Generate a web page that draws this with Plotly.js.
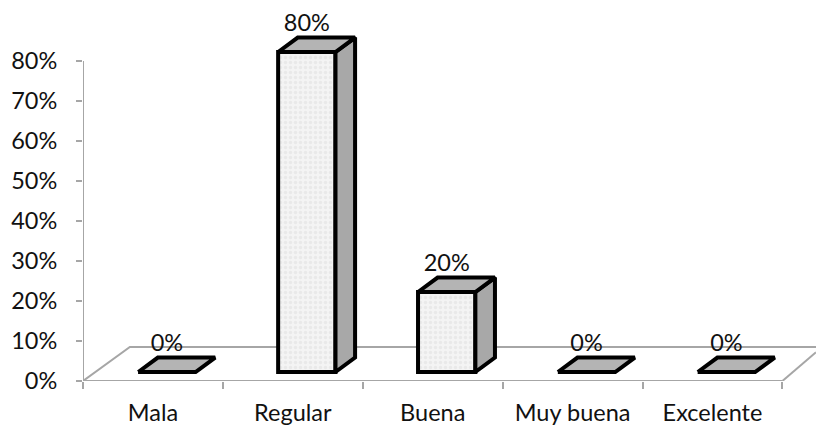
<!DOCTYPE html>
<html>
<head>
<meta charset="utf-8">
<script src="https://cdn.plot.ly/plotly-3.0.1.min.js"></script>
<style>html,body{margin:0;padding:0;background:#fff}#c{width:816px;height:428px}</style>
</head>
<body>
<div id="c"></div>
<script>
const categories = ['Mala', 'Regular', 'Buena', 'Muy buena', 'Excelente'];
const values = [0, 80, 20, 0, 0];
const labels = ['0%', '80%', '20%', '0%', '0%'];
const yTicks = [0, 10, 20, 30, 40, 50, 60, 70, 80];
const yTickText = ['0%', '10%', '20%', '30%', '40%', '50%', '60%', '70%', '80%'];
const boundaries = [-0.5, 0.5, 1.5, 2.5, 3.5, 4.5];

// oblique projection in axis units
const xStart = -0.5, xEnd = 4.74, yMin = 0, yMax = 95.25;
const barShift = 0.1, barWidth = 0.41, barLift = 2.25;
const depthX = 0.14, depthY = 3.6;
const edge = {color: '#000', width: 4};
const font = 'Lato, Carlito, sans-serif';
const ink = '#111';

const centers = categories.map((_, i) => i);
const traces = [];

// chart frame: y axis, floor
const frame = {color: '#a6a6a6', width: 2};
traces.push({type: 'scatter', mode: 'lines', x: [xStart, xStart], y: [0, 80], line: frame, hoverinfo: 'skip', xaxis: 'x', yaxis: 'y'});
traces.push({type: 'scatter', mode: 'lines',
  x: [4.5, xStart, xStart + 0.335, xEnd], y: [0, 0, 8.5, 8.5],
  line: frame, hoverinfo: 'skip', xaxis: 'x', yaxis: 'y'});
traces.push({type: 'scatter', mode: 'lines',
  x: [4.5, xEnd], y: [0, 7.2],
  line: frame, hoverinfo: 'skip', xaxis: 'x', yaxis: 'y'});

// front faces
traces.push({
  type: 'bar', x: centers.map(c => c + barShift), y: values, base: values.map(() => barLift),
  width: barWidth,
  marker: {color: '#f1f1f1', line: edge, pattern: {shape: '.', fgcolor: '#e9e9e9', bgcolor: '#f4f4f4', size: 5, solidity: 0.35}},
  hoverinfo: 'skip', xaxis: 'x2', yaxis: 'y2'
});

// side and top faces
centers.forEach((c, i) => {
  const l = c + barShift - barWidth / 2, r = l + barWidth;
  const top = values[i] + barLift;
  if (values[i] > 0) {
    traces.push({type: 'scatter', mode: 'lines', fill: 'toself', fillcolor: '#a8a8a8',
      x: [r, r + depthX, r + depthX, r, r], y: [barLift, barLift + depthY, top + depthY, top, barLift],
      line: Object.assign({join: 'round'}, edge), hoverinfo: 'skip', xaxis: 'x2', yaxis: 'y2'});
  }
  traces.push({type: 'scatter', mode: 'lines', fill: 'toself', fillcolor: '#b4b4b4',
    x: [l, r, r + depthX, l + depthX, l], y: [top, top, top + depthY, top + depthY, top],
    line: Object.assign({join: 'round'}, edge), hoverinfo: 'skip', xaxis: 'x2', yaxis: 'y2'});
});

// data labels
traces.push({
  type: 'scatter', mode: 'text', x: centers.map(c => c + barShift),
  y: values.map(v => v + barLift + 6.6), text: labels, textposition: 'middle center',
  textfont: {family: font, size: 23.5, color: ink}, hoverinfo: 'skip', xaxis: 'x2', yaxis: 'y2'
});

const layout = {
  width: 816, height: 428, showlegend: false,
  paper_bgcolor: '#fff', plot_bgcolor: '#fff',
  margin: {l: 83, r: 0, t: 0, b: 47},
  font: {family: font, size: 23.5, color: ink},
  xaxis: {range: [xStart, xEnd], tickmode: 'array', tickvals: centers, ticktext: categories,
    ticks: '', showgrid: false, zeroline: false, showline: false, ticklabelstandoff: 15,
    tickfont: {family: font, size: 23.5, color: ink}},
  yaxis: {range: [yMin, yMax], tickmode: 'array', tickvals: yTicks, ticktext: yTickText,
    ticks: 'outside', ticklen: 6, tickwidth: 2, tickcolor: '#a6a6a6', ticklabelstandoff: 14,
    showgrid: false, zeroline: false, showline: false,
    tickfont: {family: font, size: 23.5, color: ink}},
  xaxis2: {range: [xStart, xEnd], overlaying: 'x', anchor: 'y2', tickmode: 'array', tickvals: boundaries,
    ticktext: boundaries.map(() => ''), ticks: 'outside', ticklen: 7, tickwidth: 2, tickcolor: '#a6a6a6',
    showgrid: false, zeroline: false, showline: false},
  yaxis2: {range: [yMin, yMax], overlaying: 'y', anchor: 'x2', visible: false, showgrid: false, zeroline: false}
};
Plotly.newPlot('c', traces, layout, {displayModeBar: false, staticPlot: true});
</script>
</body>
</html>
